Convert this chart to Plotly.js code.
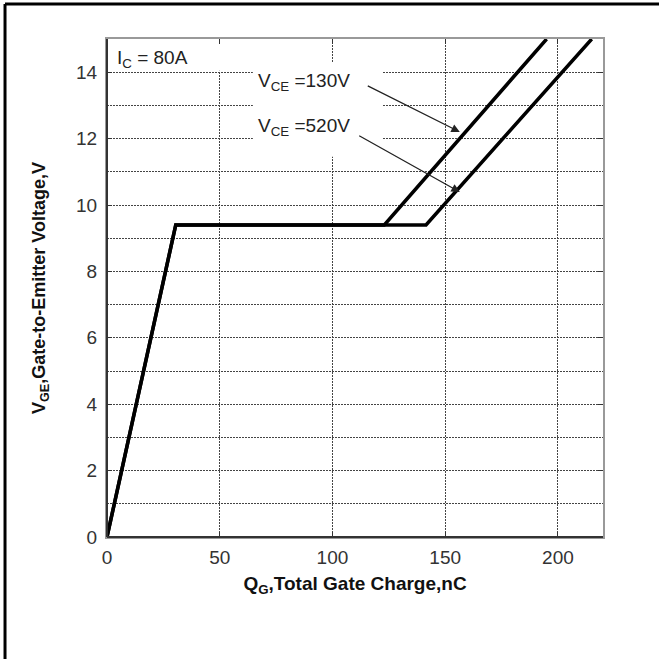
<!DOCTYPE html>
<html>
<head>
<meta charset="utf-8">
<script src="https://cdn.plot.ly/plotly-3.0.1.min.js"></script>
<style>html,body{margin:0;padding:0;background:#fff;}#chart{width:659px;height:659px;}</style>
</head>
<body>
<div id="chart"></div>
<script>
// Data
const qg130 = [0, 30.5, 123, 195];
const vge130 = [0, 9.4, 9.4, 15];
const qg520 = [0, 30.5, 141.5, 215];
const vge520 = [0, 9.4, 9.4, 15];
const xTicks = [0, 50, 100, 150, 200];
const yTicks = [0, 2, 4, 6, 8, 10, 12, 14];
const labelIc = 'I<sub>C</sub> = 80A';
const label130 = 'V<sub>CE</sub> =130V';
const label520 = 'V<sub>CE</sub> =520V';

const FONT = 'Liberation Sans, Arial, sans-serif';
const GRID = '#444';
const GDASH = '2px,1px';

const traces = [
  {x: qg130, y: vge130, mode: 'lines', line: {color: '#000', width: 3.5}, name: '130V', hoverinfo: 'skip'},
  {x: qg520, y: vge520, mode: 'lines', line: {color: '#000', width: 3.5}, name: '520V', hoverinfo: 'skip'}
];

const layout = {
  width: 659, height: 659,
  margin: {l: 107, r: 56, t: 39, b: 122},
  paper_bgcolor: '#fff', plot_bgcolor: '#fff',
  showlegend: false,
  font: {family: FONT, size: 19, color: '#333'},
  xaxis: {
    range: [0, 220], tickvals: xTicks, ticktext: xTicks.map(String),
    showgrid: true, gridcolor: GRID, griddash: GDASH, gridwidth: 1,
    zeroline: false, showline: true, linecolor: '#999', linewidth: 2, mirror: 'ticks',
    ticks: 'inside', ticklen: 5, tickcolor: '#333', ticklabelstandoff: 2,
    tickfont: {family: FONT, size: 19, color: '#333'},
    title: {text: 'Q<sub>G</sub>,Total Gate Charge,nC', font: {family: FONT, size: 19, color: '#111', weight: 'bold'}, standoff: 10}
  },
  yaxis: {
    range: [0, 15], tickvals: yTicks, ticktext: yTicks.map(String),
    showgrid: true, gridcolor: GRID, griddash: GDASH, gridwidth: 1,
    minor: {dtick: 1, tick0: 0, showgrid: true, gridcolor: GRID, griddash: GDASH, gridwidth: 1, ticks: ''},
    zeroline: false, showline: true, linecolor: '#999', linewidth: 2, mirror: 'ticks',
    ticks: 'inside', ticklen: 5, tickcolor: '#333', ticklabelstandoff: 4,
    tickfont: {family: FONT, size: 19, color: '#333'},
    title: {text: 'V<sub>GE</sub>,Gate-to-Emitter Voltage,V', font: {family: FONT, size: 18, color: '#111', weight: 'bold'}, standoff: 26}
  },
  shapes: [
    {type: 'rect', xref: 'x', yref: 'y', x0: 0.5, x1: 63, y0: 14.04, y1: 14.82, fillcolor: '#fff', line: {width: 0}, layer: 'between'},
    {type: 'rect', xref: 'x', yref: 'y', x0: 64.7, x1: 122, y0: 11.45, y1: 14.28, fillcolor: '#fff', line: {width: 0}, layer: 'between'},
    {type: 'line', xref: 'paper', yref: 'paper', x0: 0, x1: 0, y0: 0, y1: 1, line: {color: '#333', width: 2}, layer: 'above'},
    {type: 'line', xref: 'paper', yref: 'paper', x0: 0, x1: 1, y0: 0, y1: 0, line: {color: '#333', width: 2}, layer: 'above'},
    {type: 'line', xref: 'paper', yref: 'paper', x0: -0.2056, x1: 1.2, y0: 1.0703, y1: 1.0703, line: {color: '#000', width: 3}, layer: 'above'},
    {type: 'line', xref: 'paper', yref: 'paper', x0: -0.2056, x1: -0.2056, y0: -0.3, y1: 1.0703, line: {color: '#000', width: 3}, layer: 'above'}
  ],
  annotations: [
    {xref: 'x', yref: 'y', x: 3.5, y: 14.4, xanchor: 'left', yanchor: 'middle', text: labelIc, showarrow: false, font: {family: FONT, size: 19, color: '#222'}},
    {xref: 'x', yref: 'y', x: 66, y: 13.72, xanchor: 'left', yanchor: 'middle', text: label130, showarrow: false, font: {family: FONT, size: 19, color: '#222'}},
    {xref: 'x', yref: 'y', x: 66, y: 12.35, xanchor: 'left', yanchor: 'middle', text: label520, showarrow: false, font: {family: FONT, size: 19, color: '#222'}},
    {xref: 'x', yref: 'y', axref: 'x', ayref: 'y', x: 156.5, y: 12.2, ax: 115, ay: 13.61, text: '', showarrow: true, arrowhead: 2, arrowsize: 1.3, arrowwidth: 1.3, arrowcolor: '#222', standoff: 0},
    {xref: 'x', yref: 'y', axref: 'x', ayref: 'y', x: 156.5, y: 10.39, ax: 111.2, ay: 12.11, text: '', showarrow: true, arrowhead: 2, arrowsize: 1.3, arrowwidth: 1.3, arrowcolor: '#222', standoff: 0}
  ]
};

Plotly.newPlot('chart', traces, layout, {staticPlot: true, displayModeBar: false});
</script>
</body>
</html>
